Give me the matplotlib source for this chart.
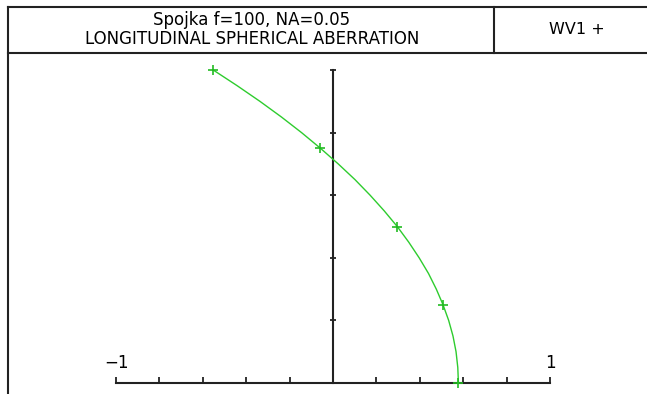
import matplotlib
matplotlib.use("Agg")
import matplotlib.pyplot as plt
from matplotlib.lines import Line2D

# values
height = [0.0, 0.05, 0.1, 0.15, 0.2, 0.25, 0.3, 0.35, 0.4, 0.45, 0.5,
          0.55, 0.6, 0.65, 0.7, 0.75, 0.8, 0.85, 0.9, 0.95, 1.0]
focus = [0.578, 0.575, 0.567, 0.553, 0.533, 0.507, 0.476, 0.440, 0.397,
         0.349, 0.296, 0.236, 0.171, 0.101, 0.024, -0.058, -0.145, -0.238,
         -0.337, -0.442, -0.552]
mark_h = [0.0, 0.25, 0.5, 0.75, 1.0]
mark_x = [0.578, 0.507, 0.296, -0.058, -0.552]
x_ticks = [-1.0, -0.8, -0.6, -0.4, -0.2, 0.0, 0.2, 0.4, 0.6, 0.8, 1.0]
y_ticks = [0.2, 0.4, 0.6, 0.8, 1.0]

title1 = "Spojka f=100, NA=0.05"
title2 = "LONGITUDINAL SPHERICAL ABERRATION"
wave = "WV1 +"

W, H = 647, 394
fig = plt.figure(figsize=(W / 100, H / 100), dpi=100)
plt.rcParams['font.family'] = ['DejaVu Sans']


def fx(px):
    return px / W


def fy(py):
    return 1 - py / H


# frame and header box
for xs, ys in [([8, 8], [6.5, H]), ([8, W], [6.5, 6.5]), ([8, W], [53, 53]), ([494, 494], [6.5, 53])]:
    fig.add_artist(Line2D([fx(v) for v in xs], [fy(v) for v in ys],
                          color='#222222', lw=1.5))
fig.text(fx(252), fy(20), title1, ha='center', va='center', fontsize=12)
fig.text(fx(252), fy(38.5), title2, ha='center', va='center', fontsize=12)
fig.text(fx(577), fy(30), wave, ha='center', va='center', fontsize=11.5)

ax = fig.add_axes([fx(116), 1 - 383 / H, (550 - 116) / W, (383 - 70) / H])
ax.set_xlim(-1, 1)
ax.set_ylim(0, 1)
ax.axis('off')

ax.plot([-1, 1], [0, 0], color='#222222', lw=1.5, clip_on=False)
ax.plot([0, 0], [0, 1], color='#222222', lw=1.5, clip_on=False)
ax.vlines(x_ticks, 0, 0.02, color='#222222', lw=1.3, clip_on=False)
ax.hlines(y_ticks, -0.016, 0.016, color='#222222', lw=1.3, clip_on=False)

ax.plot(focus, height, color='#2ecc2e', lw=1, clip_on=False)
ax.plot(mark_x, mark_h, ls='none', marker='+', ms=7, mew=1.2,
        color='#22bb22', clip_on=False)

ax.text(-1, 0.065, "\u22121", ha='center', va='center', fontsize=12)
ax.text(1, 0.065, "1", ha='center', va='center', fontsize=12)

fig.savefig("out.png", dpi=100)
